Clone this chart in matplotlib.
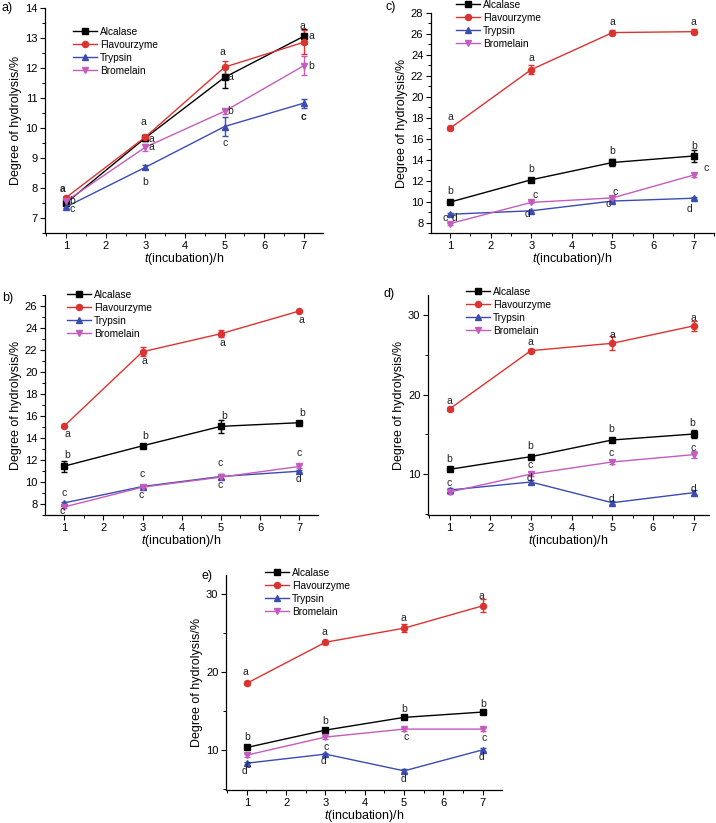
import numpy as np
import matplotlib
matplotlib.use('Agg')
import matplotlib.pyplot as plt
from matplotlib.ticker import MultipleLocator

plt.rcParams['font.family'] = ['Liberation Sans', 'DejaVu Sans']
plt.rcParams['mathtext.fontset'] = 'custom'
plt.rcParams['mathtext.it'] = 'Liberation Sans:italic'
plt.rcParams['mathtext.rm'] = 'Liberation Sans'

# %% data
time_h = [1, 3, 5, 7]
enzymes = ['Alcalase', 'Flavourzyme', 'Trypsin', 'Bromelain']

# panel a) degree of hydrolysis (%) - rows: Alcalase, Flavourzyme, Trypsin, Bromelain
dh_a = [[7.50, 9.67, 11.69, 13.06],
        [7.68, 9.70, 12.03, 12.86],
        [7.37, 8.69, 10.05, 10.83],
        [7.56, 9.36, 10.56, 12.08]]
err_a = [[0.05, 0.10, 0.35, 0.25],
         [0.05, 0.08, 0.22, 0.40],
         [0.05, 0.07, 0.30, 0.15],
         [0.05, 0.12, 0.08, 0.32]]
letters_a = [(1, 0, 'a'), (3, 0, 'b'), (2, 0, 'c'),
             (1, 1, 'a'), (0, 1, 'a'), (3, 1, 'a'), (2, 1, 'b'),
             (1, 2, 'a'), (0, 2, 'a'), (3, 2, 'b'), (2, 2, 'c'),
             (0, 3, 'a'), (0, 3, 'a'), (3, 3, 'b'), (2, 3, 'c')]
bold_a = [0, 14]

# panel b)
dh_b = [[11.44, 13.29, 15.06, 15.39],
        [15.09, 21.84, 23.48, 25.54],
        [8.10, 9.59, 10.50, 10.98],
        [7.73, 9.53, 10.44, 11.41]]
err_b = [[0.50, 0.10, 0.60, 0.10],
         [0.10, 0.40, 0.30, 0.10],
         [0.10, 0.10, 0.20, 0.10],
         [0.10, 0.10, 0.20, 0.15]]
letters_b = [(1, 0, 'a'), (0, 0, 'b'), (2, 0, 'c'), (3, 0, 'c'),
             (1, 1, 'a'), (0, 1, 'b'), (2, 1, 'c'), (3, 1, 'c'),
             (1, 2, 'a'), (0, 2, 'b'), (3, 2, 'c'), (2, 2, 'c'),
             (1, 3, 'a'), (0, 3, 'b'), (3, 3, 'c'), (2, 3, 'd')]

# panel c)
dh_c = [[9.95, 12.08, 13.73, 14.35],
        [17.00, 22.60, 26.13, 26.22],
        [8.79, 9.12, 10.05, 10.32],
        [7.90, 9.92, 10.35, 12.53]]
err_c = [[0.10, 0.10, 0.30, 0.55],
         [0.15, 0.45, 0.25, 0.25],
         [0.10, 0.10, 0.10, 0.10],
         [0.10, 0.10, 0.10, 0.20]]
letters_c = [(1, 0, 'a'), (0, 0, 'b'), (3, 0, 'c'), (2, 0, 'd'),
             (1, 1, 'a'), (0, 1, 'b'), (3, 1, 'c'), (2, 1, 'd'),
             (1, 2, 'a'), (0, 2, 'b'), (3, 2, 'c'), (2, 2, 'c'),
             (1, 3, 'a'), (0, 3, 'b'), (3, 3, 'c'), (2, 3, 'd')]

# panel d)
dh_d = [[10.63, 12.22, 14.31, 15.06],
        [18.20, 25.52, 26.44, 28.62],
        [8.03, 9.04, 6.44, 7.70],
        [7.78, 10.04, 11.55, 12.47]]
err_d = [[0.20, 0.20, 0.30, 0.50],
         [0.30, 0.20, 0.90, 0.60],
         [0.20, 0.30, 0.20, 0.30],
         [0.20, 0.30, 0.30, 0.40]]
letters_d = [(1, 0, 'a'), (0, 0, 'b'), (2, 0, 'c'),
             (1, 1, 'a'), (0, 1, 'b'), (3, 1, 'c'), (2, 1, 'd'),
             (1, 2, 'a'), (0, 2, 'b'), (3, 2, 'c'), (2, 2, 'd'),
             (1, 3, 'a'), (0, 3, 'b'), (3, 3, 'c'), (2, 3, 'd')]

# panel e)
dh_e = [[10.34, 12.56, 14.19, 14.87],
        [18.55, 23.80, 25.60, 28.46],
        [8.33, 9.49, 7.35, 10.04],
        [9.36, 11.67, 12.69, 12.69]]
err_e = [[0.20, 0.20, 0.20, 0.20],
         [0.20, 0.20, 0.50, 0.85],
         [0.20, 0.20, 0.20, 0.20],
         [0.20, 0.20, 0.20, 0.20]]
letters_e = [(1, 0, 'a'), (0, 0, 'b'), (2, 0, 'c'), (2, 0, 'd'),
             (1, 1, 'a'), (0, 1, 'b'), (2, 1, 'c'), (2, 1, 'd'),
             (1, 2, 'a'), (0, 2, 'b'), (3, 2, 'c'), (2, 2, 'd'),
             (1, 3, 'a'), (0, 3, 'b'), (3, 3, 'c'), (2, 3, 'd')]

# %% layout (pixel offsets of the letters from their points)
offsets_a = [(-3, 9), (6, 0), (6, -2),
             (-2, 15), (6, -1), (6, 0), (0, -15),
             (-2, 15), (6, 0), (6, 0), (0, -16),
             (-2, 10), (7, 0), (7, 0), (0, -14)]
offsets_b = [(3, -8), (3, 11), (0, 10), (-2, -4),
             (2, -9), (3, 10), (0, 13), (-1, -8),
             (2, -9), (3, 10), (-1, 14), (-1, -8),
             (2, -9), (3, 10), (0, 13), (-1, -8)]
offsets_c = [(0, 11), (0, 11), (-5, 6), (4, -4),
             (0, 12), (0, 11), (4, 7), (-4, -3),
             (0, 11), (0, 11), (3, 6), (-4, -3),
             (0, 10), (0, 10), (12, 7), (-4, -11)]
offsets_d = [(0, 8), (0, 10), (0, 7),
             (-1, 9), (-1, 11), (-1, 9), (-1, 4),
             (0, 8), (-1, 11), (-1, 9), (-1, 4),
             (0, 8), (-1, 11), (0, 7), (0, 4)]
offsets_e = [(-1, 11), (0, 10), (1, -2), (-2, -8),
             (-1, 10), (0, 9), (1, 7), (-2, -7),
             (-1, 10), (0, 8), (2, -8), (-1, -8),
             (-1, 10), (0, 8), (1, -9), (-1, -7)]

colors = ['black', '#dc3330', '#3a4cb0', '#c45cbe']
markers = ['s', 'o', '^', 'v']

W, H = 716, 823
fig = plt.figure(figsize=(W / 100, H / 100), dpi=100)


def px_axes(x0, y0, x1, y1):
    # axes from pixel box (top-left origin)
    return fig.add_axes([x0 / W, 1 - y1 / H, (x1 - x0) / W, (y1 - y0) / H])


def draw_panel(ax, dh, err, letters, offsets, xlim, ylim, ymaj, ymin,
               leg_xy, tag, tag_xy, bold=()):
    handles = []
    for i, name in enumerate(enzymes):
        cont = ax.errorbar(time_h, dh[i], yerr=err[i], color=colors[i], marker=markers[i],
                           ms=4.4, lw=1.0, elinewidth=1.0, capsize=2.2, capthick=1.0,
                           label=name)
        handles.append(cont.lines[0])
    for k, (s, t, txt) in enumerate(letters):
        ax.annotate(txt, (time_h[t], dh[s][t]), xytext=offsets[k],
                    textcoords='offset pixels', ha='center', va='center',
                    fontsize=7.5, color='#222222',
                    fontweight='bold' if k in bold else 'normal')
    ax.set_xlim(*xlim)
    ax.set_ylim(*ylim)
    ax.xaxis.set_major_locator(MultipleLocator(1))
    ax.xaxis.set_minor_locator(MultipleLocator(0.5))
    ax.yaxis.set_major_locator(MultipleLocator(ymaj))
    ax.yaxis.set_minor_locator(MultipleLocator(ymin))
    ax.spines['top'].set_visible(False)
    ax.spines['right'].set_visible(False)
    for sp in ['left', 'bottom']:
        ax.spines[sp].set_linewidth(0.9)
    ax.tick_params(which='major', direction='out', length=3.5, width=0.8, labelsize=8, pad=2)
    ax.tick_params(which='minor', direction='out', length=2, width=0.7)
    ax.set_ylabel('Degree of hydrolysis/%', fontsize=9, labelpad=2)
    ax.set_xlabel(r'$\it{t}$(incubation)/h', fontsize=9, labelpad=0)
    ax.legend(handles, enzymes, loc='upper left',
              bbox_to_anchor=(leg_xy[0] / W, 1 - leg_xy[1] / H),
              bbox_transform=fig.transFigure, frameon=False, fontsize=7.3,
              handlelength=2.4, handletextpad=0.25, labelspacing=0.28, borderpad=0,
              borderaxespad=0)
    fig.text(tag_xy[0] / W, 1 - tag_xy[1] / H, tag, fontsize=9, ha='left', va='center')


# %% panels
ax_a = px_axes(45, 8, 323, 233)
draw_panel(ax_a, dh_a, err_a, letters_a, offsets_a, (0.47, 7.48), (6.5, 14), 1, 0.5,
           (73, 27), 'a)', (1, 8), bold=bold_a)

ax_c = px_axes(431, 13, 714, 233)
draw_panel(ax_c, dh_c, err_c, letters_c, offsets_c, (0.53, 7.5), (7, 28), 2, 1,
           (456, 0), 'c)', (386, 7))

ax_b = px_axes(45, 295, 318, 515)
draw_panel(ax_b, dh_b, err_b, letters_b, offsets_b, (0.51, 7.48), (7, 27), 2, 1,
           (67, 290), 'b)', (2, 298))

ax_d = px_axes(428, 295, 709, 515)
draw_panel(ax_d, dh_d, err_d, letters_d, offsets_d, (0.47, 7.38), (4.9, 32.5), 10, 5,
           (466, 287), 'd)', (384, 294))

ax_e = px_axes(226, 575, 502, 790)
draw_panel(ax_e, dh_e, err_e, letters_e, offsets_e, (0.47, 7.49), (4.9, 32.4), 10, 5,
           (265, 568), 'e)', (202, 576))

fig.savefig('out.png', dpi=100)
